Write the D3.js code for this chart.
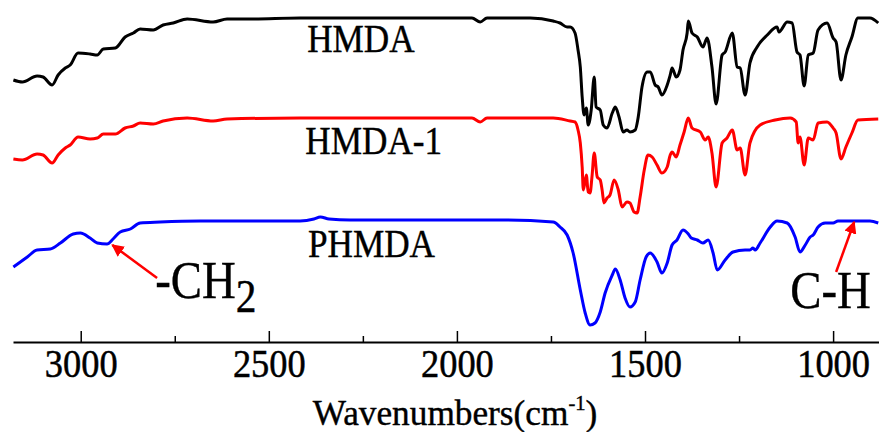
<!DOCTYPE html>
<html>
<head>
<meta charset="utf-8">
<script src="https://cdn.jsdelivr.net/npm/d3@7.9.0/dist/d3.min.js"></script>
<style>
  body { margin: 0; background: #fff; }
</style>
</head>
<body>
<svg id="chart" width="879" height="432" font-family="Liberation Serif"></svg>
<script>
// FTIR spectra, [wavenumber (cm-1), transmittance (a.u., traces offset)]
const hmda = [
  [3179,263],[3155,261],[3116,267],[3100,266],[3076,258],[3060,268],[3041,275],[3028,278],
  [3007,290],[2975,289],[2956,288],[2940,294],[2908,295],[2882,306],[2860,310],[2842,314],
  [2807,313],[2781,318],[2754,320],[2717,324],[2648,321],[2611,324],[2549,324],[2417,325],
  [2151,325],[1960,325],[1938,321],[1920,325],[1805,325],[1744,322],[1726,320],[1707,316],
  [1699,316],[1686,310],[1678,293],[1672,276],[1667,246],[1662,228],[1656,235],[1651,218],
  [1643,233],[1635,266],[1630,236],[1619,233],[1611,218],[1601,215],[1587,230],[1579,236],
  [1569,226],[1558,211],[1548,213],[1540,211],[1526,213],[1518,226],[1508,256],[1494,271],
  [1486,271],[1473,258],[1465,256],[1455,248],[1441,258],[1433,268],[1428,275],[1417,266],
  [1407,273],[1399,293],[1388,310],[1385,322],[1375,310],[1361,306],[1346,296],[1335,305],
  [1322,276],[1311,239],[1295,288],[1287,291],[1268,310],[1255,276],[1247,275],[1234,248],
  [1221,280],[1202,296],[1175,308],[1149,316],[1144,311],[1122,321],[1109,320],[1096,291],
  [1088,288],[1077,257],[1066,288],[1053,290],[1040,313],[1016,320],[1000,305],[992,301],
  [979,263],[966,288],[950,306],[934,325],[902,325],[880,320]
];

const hmda1 = [
  [3179,184],[3155,183],[3116,189],[3100,188],[3076,180],[3060,188],[3041,195],[3028,198],
  [3007,206],[2975,204],[2956,205],[2940,209],[2908,209],[2882,215],[2860,217],[2842,220],
  [2807,219],[2781,222],[2717,225],[2648,222],[2611,224],[2417,225],[1960,225],[1938,221],
  [1920,225],[1744,225],[1699,222],[1686,221],[1678,213],[1672,200],[1667,176],[1664,153],
  [1656,168],[1651,151],[1646,150],[1641,166],[1635,190],[1627,166],[1619,163],[1614,153],
  [1609,140],[1601,145],[1593,148],[1582,163],[1571,153],[1561,136],[1548,141],[1540,140],
  [1529,131],[1521,130],[1513,146],[1502,173],[1492,188],[1481,186],[1468,178],[1455,170],
  [1441,176],[1433,188],[1428,191],[1417,186],[1407,198],[1396,211],[1385,225],[1375,215],
  [1353,211],[1340,203],[1332,206],[1322,190],[1311,156],[1295,200],[1282,205],[1268,213],
  [1255,193],[1247,195],[1234,168],[1221,200],[1194,218],[1154,223],[1114,225],[1098,221],
  [1093,200],[1088,206],[1077,178],[1066,205],[1053,203],[1040,220],[1016,221],[1000,215],
  [992,210],[979,184],[966,196],[950,210],[934,223],[880,224]
];

const phmda = [
  [3179,76],[3142,86],[3116,93],[3081,94],[3054,100],[3020,109],[3001,110],[2975,105],
  [2956,100],[2930,99],[2914,104],[2895,111],[2868,114],[2842,120],[2789,121],[2682,122],
  [2417,122],[2380,124],[2363,126],[2340,124],[2284,123],[1885,123],[1744,121],[1726,116],
  [1707,108],[1691,90],[1672,53],[1659,30],[1646,18],[1633,20],[1619,31],[1606,50],
  [1587,68],[1579,74],[1566,63],[1553,45],[1540,36],[1526,41],[1513,63],[1497,86],
  [1486,90],[1468,81],[1455,70],[1441,80],[1428,98],[1415,103],[1399,113],[1385,109],
  [1377,105],[1361,103],[1346,100],[1332,103],[1319,90],[1308,73],[1287,83],[1266,91],
  [1234,93],[1221,93],[1213,95],[1207,93],[1194,100],[1167,116],[1149,122],[1122,120],
  [1101,106],[1088,91],[1074,98],[1061,106],[1053,108],[1040,116],[1021,120],[1000,120],
  [987,122],[902,122],[880,120]
];

const seriesNames = ["HMDA", "HMDA-1", "PHMDA"];
const seriesColors = ["#000000", "#ff0000", "#0000ff"];
const majorTicks = [3000, 2500, 2000, 1500, 1000];
const minorTicks = [2750, 2250, 1750, 1250];

// label anchors in data units: [wavenumber, value]
const labelPos = [[2398, 291], [2403, 189], [2396, 86]];
const peakNotes = [
  { text: "-CH", sub: "2", at: [2802, 45], tail: [2797, 65], tip: [2916, 98] },
  { text: "C-H", sub: "", at: [1114, 35], tail: [992, 71], tip: [944, 121] }
];

const serif = "'Liberation Serif', 'Times New Roman', serif";
const svg = d3.select("#chart");
const axisY = 342;

const x = d3.scaleLinear().domain([3180, 878]).range([13, 879]);
const y = d3.scaleLinear().domain([0, 343]).range([343, 0]);

svg.append("defs").append("marker")
    .attr("id", "arrow")
    .attr("viewBox", "0 0 10 10")
    .attr("refX", 9).attr("refY", 5)
    .attr("markerWidth", 5).attr("markerHeight", 5)
    .attr("markerUnits", "strokeWidth")
    .attr("orient", "auto")
  .append("path")
    .attr("d", "M0,0L10,5L0,10z")
    .attr("fill", "#ff0000");

const line = d3.line()
    .x(d => x(d[0]))
    .y(d => y(d[1]))
    .curve(d3.curveMonotoneX);

[hmda, hmda1, phmda].forEach((data, i) => {
    svg.append("path")
        .datum(data)
        .attr("d", line)
        .attr("fill", "none")
        .attr("stroke", seriesColors[i])
        .attr("stroke-width", 3)
        .attr("stroke-linejoin", "round");
});

// bottom axis, ticks pointing inward
const axis = svg.append("g")
    .attr("transform", `translate(0,${axisY})`)
    .call(d3.axisBottom(x).tickValues(majorTicks).tickSizeInner(-11).tickSizeOuter(0).tickPadding(7).tickFormat(d3.format("d")));

axis.attr("font-family", null);
axis.select(".domain").attr("stroke", "#000").attr("stroke-width", 2);
axis.selectAll(".tick line").attr("stroke", "#000").attr("stroke-width", 1.5);
axis.selectAll(".tick text")
    .style("font-family", serif)
    .style("font-size", "40px")
    .attr("fill", "#000")
    .attr("stroke", "#000").attr("stroke-width", 0.5)
    .attr("transform", "scale(0.91,1)");

svg.append("g")
    .attr("transform", `translate(0,${axisY})`)
    .call(d3.axisBottom(x).tickValues(minorTicks).tickSizeInner(-6).tickSizeOuter(0).tickFormat(""))
    .call(g => g.select(".domain").remove())
    .selectAll(".tick line").attr("stroke", "#000").attr("stroke-width", 1.5);

// axis title
const title = svg.append("text")
    .attr("transform", `translate(455,425) scale(0.98,1)`)
    .attr("text-anchor", "middle")
    .style("font-family", serif)
    .style("font-size", "36px")
    .attr("fill", "#000")
    .attr("stroke", "#000").attr("stroke-width", 0.4);
title.append("tspan").text("Wavenumbers(cm");
title.append("tspan").style("font-size", "21px").attr("dy", -15).text("-1");
title.append("tspan").attr("dy", 15).text(")");

// trace names
seriesNames.forEach((name, i) => {
    svg.append("text")
        .attr("transform", `translate(${x(labelPos[i][0])},${y(labelPos[i][1])}) scale(0.88,1)`)
        .style("font-family", serif)
        .style("font-size", "40px")
        .attr("fill", "#000")
        .attr("stroke", "#000").attr("stroke-width", 0.4)
        .text(name);
});

// peak annotations
peakNotes.forEach(n => {
    svg.append("line")
        .attr("x1", x(n.tail[0])).attr("y1", y(n.tail[1]))
        .attr("x2", x(n.tip[0])).attr("y2", y(n.tip[1]))
        .attr("stroke", "#ff0000")
        .attr("stroke-width", 2.5)
        .attr("marker-end", "url(#arrow)");

    const t = svg.append("text")
        .attr("transform", `translate(${x(n.at[0])},${y(n.at[1])}) scale(0.9,1)`)
        .style("font-family", serif)
        .style("font-size", "52px")
        .attr("fill", "#000")
        .attr("stroke", "#000").attr("stroke-width", 0.4);
    t.append("tspan").text(n.text);
    if (n.sub) t.append("tspan").style("font-size", "46px").attr("dy", 14).text(n.sub);
});
</script>
</body>
</html>
